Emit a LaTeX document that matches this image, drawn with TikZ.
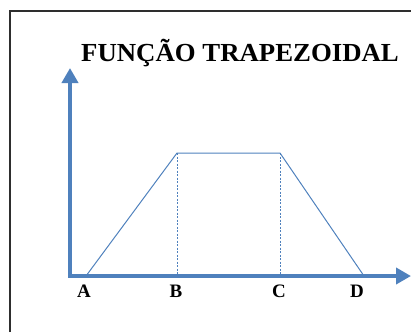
\documentclass[tikz,border=0pt]{standalone}
\usepackage{fontspec}
\setmainfont{Liberation Serif}
\usetikzlibrary{arrows.meta}
\definecolor{steel}{HTML}{4F81BD}
\definecolor{ink}{HTML}{2E2E2E}
\begin{document}
\begin{tikzpicture}[x=1pt,y=-1pt]
        \useasboundingbox (0,0) rectangle (411,332);
        \draw[ink,line width=1.3pt] (10,332) -- (10,11) -- (411,11);
        \coordinate (O) at (70,276);
        \coordinate (ytip) at (70,68);
        \coordinate (xtip) at (411,276);
        \draw[steel,line width=4pt,line join=miter,{Triangle[length=15pt,width=16pt]}-{Triangle[length=15pt,width=16pt]}] (ytip) -- (O) -- (xtip);
        \coordinate (A) at (86,276);
        \coordinate (B) at (177,153);
        \coordinate (C) at (280,153);
        \coordinate (D) at (364,276);
        \draw[steel,line width=1pt] (A) -- (B) -- (C) -- (D);
        \draw[steel,line width=1pt,dash pattern=on 2pt off 1.5pt] (B) -- (B |- O);
        \draw[steel,line width=1pt,dash pattern=on 2pt off 1.5pt] (C) -- (C |- O);
        \node[font=\bfseries\fontsize{26}{26}\selectfont,xscale=1.03] (title) at (240,53) {FUNÇÃO TRAPEZOIDAL};
        \node[font=\bfseries\fontsize{19}{19}\selectfont] (la) at (84,291) {A};
        \node[font=\bfseries\fontsize{19}{19}\selectfont] (lb) at (176,291) {B};
        \node[font=\bfseries\fontsize{19}{19}\selectfont] (lc) at (279,291) {C};
        \node[font=\bfseries\fontsize{19}{19}\selectfont] (ld) at (357,291) {D};
      \end{tikzpicture}
\end{document}
